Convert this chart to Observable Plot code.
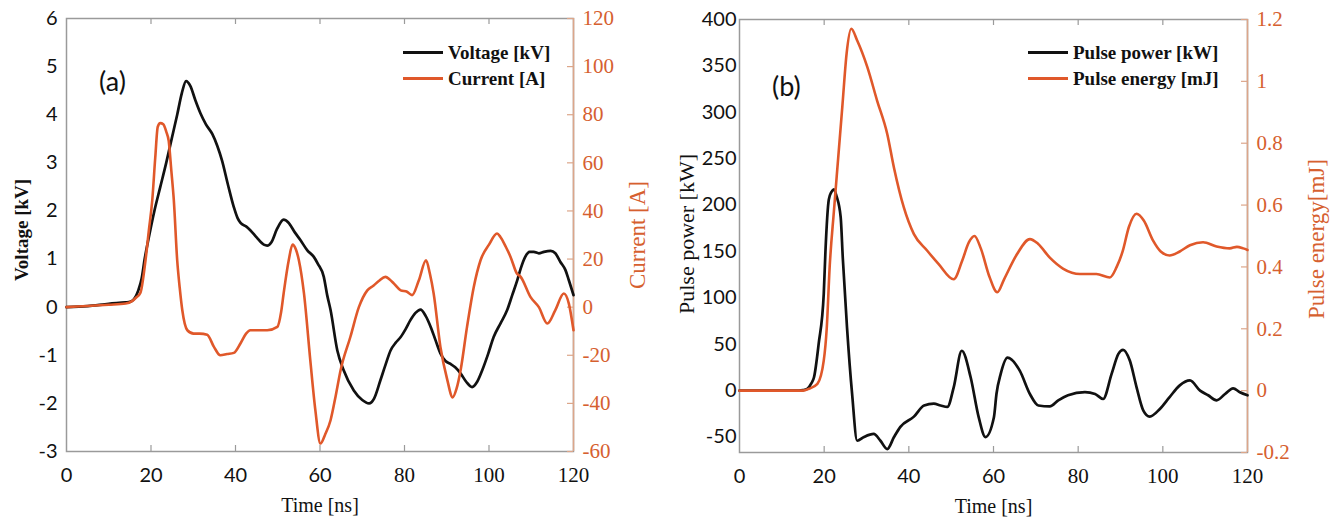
<!DOCTYPE html>
<html>
<head>
<meta charset="utf-8">
<script src="https://cdn.jsdelivr.net/npm/d3@7"></script>
<script src="https://cdn.jsdelivr.net/npm/@observablehq/plot@0.6"></script>
<style>
  html, body { margin: 0; padding: 0; background: #fff; }
  #wrap { position: relative; width: 1336px; height: 519px; overflow: hidden; background: #fff; }
  .panel { position: absolute; top: 0; }
  .panel svg { overflow: visible; }
  .tag { position: absolute; font-family: Lato, "Open Sans", sans-serif; font-size: 27px; color: #111; line-height: 1; }
  .leg { position: absolute; font-family: "Liberation Serif", "Times New Roman", serif; font-weight: bold; font-size: 19px; color: #111; line-height: 1; }
  .leg .row { position: relative; height: 26px; display: flex; align-items: center; white-space: nowrap; }
  .leg .sw { display: inline-block; width: 40px; height: 3px; margin-right: 5px; }
</style>
</head>
<body>
<div id="wrap">
  <div id="pa" class="panel" style="left:0px"></div>
  <div id="pb" class="panel" style="left:668px"></div>
  <div class="tag" style="left:99px; top:67px">(a)</div>
  <div class="tag" style="left:772px; top:72px">(b)</div>
  <div class="leg" style="left:403px; top:39px">
    <div class="row"><span class="sw" style="background:#111"></span>Voltage [kV]</div>
    <div class="row"><span class="sw" style="background:#e0582a"></span>Current [A]</div>
  </div>
  <div class="leg" style="left:1028px; top:39px">
    <div class="row"><span class="sw" style="background:#111"></span>Pulse power [kW]</div>
    <div class="row"><span class="sw" style="background:#e0582a"></span>Pulse energy [mJ]</div>
  </div>
</div>
<script>
// ---------------- DATA ----------------
// Panel (a): voltage [kV] vs time [ns]
const voltageTime = [0, 5, 10, 14, 15, 16, 17, 17.8, 18.5, 19.6, 20.8, 22.2, 23.6, 24.9, 26.2, 27.3, 28.3, 29.3, 30.5, 31.7, 33, 34.5, 35.7, 36.8, 38.2, 39.6, 40.5, 41.2, 42.5, 43.5, 45, 46.7, 47.5, 48.5, 49.8, 51.4, 52.5, 54, 55.4, 57, 58.5, 59.5, 60.9, 61.7, 62.5, 64.1, 65.6, 68, 70, 71.6, 72.8, 74.3, 75.5, 76.7, 78, 79.1, 80.3, 81.4, 82.6, 83.8, 85, 86.2, 87.4, 88.5, 89.7, 90.9, 92, 93.3, 94.6, 96, 97.2, 98.4, 99.8, 101.1, 102.7, 104.3, 105.5, 106.7, 107.5, 108.6, 109.6, 110.6, 111.8, 113, 114.6, 115.7, 116.9, 118.1, 118.9, 120];
const voltageKV   = [0, 0.02, 0.07, 0.1, 0.11, 0.17, 0.35, 0.6, 1.0, 1.5, 2.0, 2.5, 3.0, 3.5, 4.0, 4.45, 4.7, 4.6, 4.3, 4.03, 3.8, 3.6, 3.35, 3.05, 2.55, 2.08, 1.85, 1.75, 1.68, 1.6, 1.45, 1.3, 1.28, 1.35, 1.62, 1.82, 1.76, 1.56, 1.39, 1.18, 1.05, 0.9, 0.63, 0.25, -0.06, -0.9, -1.31, -1.73, -1.93, -2.0, -1.9, -1.52, -1.2, -0.9, -0.73, -0.62, -0.45, -0.27, -0.12, -0.05, -0.18, -0.41, -0.7, -0.96, -1.12, -1.18, -1.25, -1.38, -1.55, -1.66, -1.55, -1.31, -0.97, -0.62, -0.34, -0.06, 0.25, 0.56, 0.8, 1.05, 1.15, 1.15, 1.12, 1.15, 1.17, 1.12, 0.94, 0.77, 0.56, 0.25];
// Panel (a): current [A] vs time [ns]
const currentTime = [0, 5, 10, 14, 15.5, 16.5, 17.5, 18.7, 19.5, 20.3, 21, 21.6, 22.2, 22.9, 23.6, 24.2, 24.8, 25.4, 26.2, 26.8, 27.4, 28.6, 30.1, 31.5, 33.3, 34.9, 36.4, 38, 39.6, 41.2, 42.5, 43.5, 45.9, 47.5, 49.9, 50.8, 51.4, 52.6, 53.5, 54.3, 55, 56.2, 57.7, 58.9, 60.1, 61.2, 62.5, 63.7, 64.9, 67.2, 69.2, 71.2, 72.7, 74, 75.5, 76.5, 77.5, 79.1, 80.6, 81.8, 83.4, 85.1, 86, 86.9, 88.5, 90.1, 91.4, 92.3, 93.3, 94.8, 96.4, 98, 100, 101.9, 102.7, 104, 105.1, 106.6, 107.5, 109.8, 111.8, 113.8, 115.7, 117.7, 118.9, 120];
const currentA    = [0, 0.5, 1, 1.5, 2.5, 4, 6, 19.5, 32, 44.5, 62, 75, 76.5, 76, 73, 69, 57, 44.5, 19.5, 8, -1.2, -9.6, -11, -11, -11.5, -16.5, -20, -19.5, -19, -15, -11, -9.6, -9.6, -9.6, -8.2, -2, 5.8, 19.5, 26, 24, 19.5, 5.8, -22, -42.8, -56.7, -53, -47, -37, -26, -12.3, 0, 7, 9, 11, 12.6, 11.5, 9.8, 7, 6.4, 5, 11.2, 19.5, 14, 5.7, -16.5, -30, -37.5, -34, -26, -8.2, 8.4, 19.5, 26, 30.6, 29.2, 25, 20.9, 14, 12.6, 4.3, 0, -6.8, -1.2, 5.7, 1.5, -9.6];
// Panel (b): pulse power [kW] vs time [ns]
const powerTime = [0, 14, 15, 16, 17, 17.6, 18.7, 19.9, 20.3, 21.1, 21.7, 22.3, 22.9, 23.9, 24.4, 25.4, 26.6, 27.8, 29.4, 31.7, 33.3, 34.9, 36.5, 38, 41.2, 43.6, 45.9, 47.5, 49.1, 50.6, 52.5, 54.6, 56.5, 58.1, 60.1, 60.7, 61.7, 63.3, 66.2, 68.6, 70.6, 73.3, 75.3, 77.6, 81.6, 84, 85.9, 87.9, 89.5, 90.6, 92.2, 93.8, 95.4, 96.9, 99.3, 101.6, 104, 106.4, 108.8, 110.7, 112.7, 114.7, 116.6, 118.2, 120];
const powerKW   = [0, 0, 0.5, 2, 8, 14.4, 50.4, 104, 150, 206, 214, 217, 210, 187, 143, 68, -3.6, -54, -50, -46.7, -54, -63, -50, -39, -28, -16, -14, -16, -17.6, 3.6, 43, 14.4, -28.6, -50, -28.6, -3.6, 18, 35.5, 21.6, -3.6, -16, -17, -10.5, -5, -1.7, -3.6, -9, 18, 39.6, 44, 32.4, 3.6, -21.5, -28, -19.7, -7, 5.7, 11, 0, -5, -10.5, -3.6, 2.5, -1.7, -5];
// Panel (b): pulse energy [mJ] vs time [ns]
const energyTime = [0, 15, 16.4, 18.4, 19.9, 20.6, 21.3, 22.3, 23.3, 24.3, 25.3, 26.4, 27.8, 30.2, 32.5, 34.9, 36.5, 38.8, 41.2, 44.3, 47, 50.6, 52.6, 54.2, 55.5, 57, 59, 60.9, 62.5, 65.5, 68.6, 70.5, 73.3, 76.5, 80.4, 84.3, 87.5, 89.1, 90.5, 92, 93.8, 95.5, 97.7, 99.5, 101.6, 104, 106.4, 109.5, 112.7, 115.8, 117.5, 119, 120];
const energyMJ   = [0, 0, 0.006, 0.022, 0.097, 0.2, 0.4, 0.58, 0.75, 0.92, 1.09, 1.17, 1.132, 1.046, 0.938, 0.83, 0.72, 0.593, 0.506, 0.453, 0.41, 0.36, 0.42, 0.48, 0.5, 0.46, 0.37, 0.318, 0.36, 0.44, 0.49, 0.475, 0.43, 0.394, 0.377, 0.377, 0.366, 0.4, 0.45, 0.53, 0.572, 0.55, 0.485, 0.45, 0.437, 0.45, 0.47, 0.48, 0.466, 0.46, 0.465, 0.46, 0.455];

// Tick labels
const timeTicks = [0, 20, 40, 60, 80, 100, 120];
const voltageTicks = [-3, -2, -1, 0, 1, 2, 3, 4, 5, 6];
const currentTicks = [-60, -40, -20, 0, 20, 40, 60, 80, 100, 120];
const powerTicks = [-50, 0, 50, 100, 150, 200, 250, 300, 350, 400];
const energyTicks = [-0.2, 0, 0.2, 0.4, 0.6, 0.8, 1, 1.2];

// Axis ranges
const timeDomain = [0, 120];
const voltageDomain = [-3, 6];
const currentPerKV = 20;            // right axis: 120 A <-> 6 kV
const powerDomain = [-400 / 6, 400];
const kWperMJ = 400 / 1.2;          // right axis: 1.2 mJ <-> 400 kW

// ---------------- STYLE ----------------
const BLACK = "#111111";
const ORANGE = "#e0582a";
const ORANGE_TXT = "#d6602f";
const ORANGE_AXIS = "#dca68a";
const GRAY = "#9a9a9a";
const SANS = "Lato, 'Open Sans', sans-serif";
const SERIF = "'Liberation Serif', 'Times New Roman', serif";
const W = 668, H = 519;

const voltData = voltageTime.map((t, i) => ({t, v: voltageKV[i]}));
const currData = currentTime.map((t, i) => ({t, a: currentA[i]}));
const powData = powerTime.map((t, i) => ({t, p: powerKW[i]}));
const enData = energyTime.map((t, i) => ({t, e: energyMJ[i]}));

const innerTicks = timeTicks.slice(1, -1);
const sansX = timeTicks.filter(d => d <= 60);
const serifX = timeTicks.filter(d => d > 60);

function panel({m, yDomain, leftTicks, leftPad, rightTicksScaled, rightFormat, left, right, leftLabel, rightLabel, leftLabelPos, rightLabelPos, leftBold, leftLabelSize, rightLabelSize}) {
  const innerW = W - m.l - m.r, innerH = H - m.t - m.b;
  const title = {textAnchor: "middle", lineAnchor: "middle", fontFamily: SERIF};
  return Plot.plot({
    width: W, height: H,
    marginLeft: m.l, marginRight: m.r, marginTop: m.t, marginBottom: m.b,
    x: {domain: timeDomain},
    y: {domain: yDomain},
    style: {background: "white", overflow: "visible"},
    marks: [
      Plot.frame({stroke: GRAY, strokeWidth: 1.5}),
      Plot.ruleX([timeDomain[1]], {stroke: ORANGE_AXIS, strokeWidth: 1.5}),
      // inward ticks top & bottom
      Plot.tickX(innerTicks, {x: d => d, insetBottom: innerH - 6, stroke: GRAY, strokeWidth: 1.2}),
      Plot.tickX(innerTicks, {x: d => d, insetTop: innerH - 6, stroke: GRAY, strokeWidth: 1.2}),
      // inward ticks on right axis
      Plot.tickY(rightTicksScaled, {y: d => d, insetLeft: innerW - 6, stroke: ORANGE_AXIS, strokeWidth: 1.2}),
      // x tick labels
      Plot.axisX({ticks: sansX, tickSize: 0, tickPadding: 16, tickFormat: d => String(d), fontFamily: SANS, fontSize: 20, color: BLACK, label: null}),
      Plot.axisX({ticks: serifX, tickSize: 0, tickPadding: 16, tickFormat: d => String(d), fontFamily: SERIF, fontSize: 21, color: BLACK, label: null}),
      // left tick labels
      Plot.axisY({ticks: leftTicks, tickSize: 0, tickPadding: leftPad, tickFormat: d => String(d), fontFamily: SANS, fontSize: 20, color: BLACK, label: null}),
      // right tick labels
      Plot.axisY({anchor: "right", ticks: rightTicksScaled, tickSize: 0, tickPadding: 9, tickFormat: rightFormat, fontFamily: SERIF, fontSize: 21, color: ORANGE_TXT, label: null}),
      // series
      Plot.line(left.data, {x: "t", y: left.y, stroke: BLACK, strokeWidth: 2.7, curve: "monotone-x"}),
      Plot.line(right.data, {x: "t", y: right.y, stroke: ORANGE, strokeWidth: 2.6, curve: "monotone-x"}),
      // axis titles
      Plot.text([leftLabel], {...title, frameAnchor: "left", rotate: -90, dx: leftLabelPos[0], dy: leftLabelPos[1], fontSize: leftLabelSize, fontWeight: leftBold ? "bold" : "normal", fill: BLACK}),
      Plot.text([rightLabel], {...title, frameAnchor: "right", rotate: -90, dx: rightLabelPos[0], dy: rightLabelPos[1], fontSize: rightLabelSize, fill: ORANGE_TXT}),
      Plot.text(["Time [ns]"], {...title, frameAnchor: "bottom", dy: 54, fontSize: 20, fill: BLACK})
    ]
  });
}

const chartA = panel({
  m: {l: 66, r: 95, t: 18, b: 68},
  yDomain: voltageDomain,
  leftTicks: voltageTicks,
  leftPad: 9,
  rightTicksScaled: currentTicks.map(v => v / currentPerKV),
  rightFormat: d => String(Math.round(d * currentPerKV)),
  left: {data: voltData, y: "v"},
  right: {data: currData, y: d => d.a / currentPerKV},
  leftLabel: "Voltage [kV]", rightLabel: "Current [A]",
  leftLabelPos: [-45, -5], rightLabelPos: [64, 0],
  leftBold: true, leftLabelSize: 19, rightLabelSize: 23
});
document.getElementById("pa").appendChild(chartA);

const chartB = panel({
  m: {l: 71, r: 89, t: 19, b: 67},
  yDomain: powerDomain,
  leftTicks: powerTicks,
  leftPad: 3,
  rightTicksScaled: energyTicks.map(v => v * kWperMJ),
  rightFormat: d => String(Math.round(d / kWperMJ * 10) / 10),
  left: {data: powData, y: "p"},
  right: {data: enData, y: d => d.e * kWperMJ},
  leftLabel: "Pulse power [kW]", rightLabel: "Pulse energy[mJ]",
  leftLabelPos: [-53, -2], rightLabelPos: [69, 3],
  leftBold: false, leftLabelSize: 22, rightLabelSize: 23
});
document.getElementById("pb").appendChild(chartB);
</script>
</body>
</html>
